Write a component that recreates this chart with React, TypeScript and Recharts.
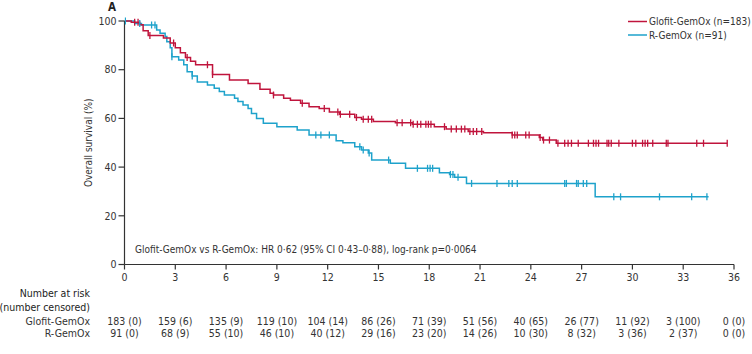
import React from "react";
import { ComposedChart, Line, Scatter, XAxis, YAxis } from "recharts";

const MONTH_TICKS = [0, 3, 6, 9, 12, 15, 18, 21, 24, 27, 30, 33, 36];
const SURV_TICKS = [0, 20, 40, 60, 80, 100];

// Glofit-GemOx Kaplan-Meier steps (month, % surviving)
const glofitT = [0, 0.4, 0.9, 1.1, 1.4, 2.3, 2.7, 3.0, 3.3, 3.6, 3.9, 4.2, 5.2, 6.2, 7.3, 8.0, 8.6, 8.8, 9.4, 9.8, 10.4, 10.9, 11.5, 12.1, 12.7, 13.6, 14.0, 14.7, 16.0, 17.0, 18.3, 19.0, 20.3, 21.2, 22.9, 24.5, 24.7, 25.5, 35.6];
const glofitS = [100, 99.5, 98.5, 96, 94, 93, 91, 89, 87, 85, 83.5, 82, 78, 75.8, 74.3, 72, 70.3, 69.6, 68.3, 67.5, 66.2, 64.8, 64.1, 62.6, 61.7, 60.4, 59.6, 58.7, 58.2, 57.6, 56.6, 55.6, 54.6, 54.1, 53.2, 52.2, 51.1, 49.8, 49.8];
const glofitCensor = [0.6, 0.8, 1.5, 2.9, 3.7, 4.9, 5.2, 8.8, 10.5, 11.8, 12.6, 12.75, 13.3, 13.7, 14.1, 14.4, 14.6, 16.1, 16.4, 16.9, 17.05, 17.3, 17.5, 17.8, 17.95, 18.1, 18.9, 19.3, 19.6, 19.9, 20.1, 20.4, 20.6, 20.8, 21.1, 22.9, 23.05, 23.2, 23.7, 23.9, 24.55, 24.75, 25.1, 25.6, 26.0, 26.2, 26.4, 26.8, 27.4, 27.7, 27.85, 28.0, 28.5, 28.6, 28.75, 29.2, 30.0, 30.2, 30.6, 30.75, 30.9, 31.2, 32.0, 32.1, 33.8, 34.2, 35.6];

// R-GemOx Kaplan-Meier steps
const rT = [0, 0.6, 1.0, 1.9, 2.1, 2.4, 2.5, 2.7, 2.8, 3.2, 3.5, 3.7, 4.0, 4.3, 4.9, 5.3, 5.6, 5.9, 6.5, 6.7, 7.0, 7.3, 7.5, 7.8, 8.2, 9.0, 10.2, 10.9, 12.5, 12.9, 13.6, 14.0, 14.4, 14.6, 15.7, 16.6, 18.6, 19.2, 19.5, 20.2, 27.8, 34.5];
const rS = [100, 99, 98.4, 96.3, 95, 93.6, 91.5, 89, 85.3, 84, 82, 79.2, 77.4, 75, 73.7, 72.4, 71, 69.6, 68.3, 66.9, 65.5, 64.1, 62, 60, 58, 56.6, 55.2, 53.2, 50.8, 50, 48.4, 47, 45.8, 42.9, 41.6, 39.5, 37.7, 37, 35.8, 33.3, 27.8, 27.8];
const rCensor = [0.05, 0.9, 1.6, 1.8, 2.8, 4.0, 11.3, 11.6, 12.1, 13.9, 14.1, 14.45, 15.6, 17.3, 17.9, 18.05, 18.2, 19.25, 19.4, 19.7, 20.5, 22.0, 22.7, 22.9, 23.2, 26.0, 26.1, 26.7, 26.8, 27.1, 27.3, 28.9, 29.3, 31.6, 33.5, 34.4];

// Number at risk (number censored)
const glofitAtRisk = [183, 159, 135, 119, 104, 86, 71, 51, 40, 26, 11, 3, 0];
const glofitCens = [0, 6, 9, 10, 14, 26, 39, 56, 65, 77, 92, 100, 0];
const rAtRisk = [91, 68, 55, 46, 40, 29, 23, 14, 10, 8, 3, 2, 0];
const rCens = [0, 9, 10, 10, 12, 16, 20, 26, 30, 32, 36, 37, 0];

const RED = "#c0143c";
const BLUE = "#1ea2cb";
const TEXT = "#333";
const FONT = "'Liberation Sans Narrow', 'DejaVu Sans Condensed', 'Roboto Condensed', Arial, sans-serif";

const toSteps = (ts: number[], ss: number[]) => ts.map((t, i) => ({ t, s: ss[i] }));
const survAt = (ts: number[], ss: number[], t: number) => {
  let v = ss[0];
  for (let i = 0; i < ts.length; i++) if (ts[i] <= t) v = ss[i];
  return v;
};
const toCensor = (cs: number[], ts: number[], ss: number[]) => cs.map((t) => ({ t, s: survAt(ts, ss, t) }));

const glofitData = toSteps(glofitT, glofitS);
const rData = toSteps(rT, rS);
const glofitCensorData = toCensor(glofitCensor, glofitT, glofitS);
const rCensorData = toCensor(rCensor, rT, rS);

const censorShape = (color: string) => (props: any) => {
  const { cx, cy } = props;
  return <line x1={cx} x2={cx} y1={cy - 3.5} y2={cy + 3.5} stroke={color} strokeWidth={1.3} />;
};

const XTick = (props: any) => {
  const { x, y, payload, index } = props;
  const i = MONTH_TICKS.indexOf(payload.value);
  return (
    <g fontFamily={FONT} fontSize={10.5} fill={TEXT}>
      <text x={x} y={y + 9.5} textAnchor="middle" fill={TEXT}>{payload.value}</text>
      <text x={x} y={y + 53.5} textAnchor="middle" fill={TEXT}>{`${glofitAtRisk[i]} (${glofitCens[i]})`}</text>
      <text x={x} y={y + 65.5} textAnchor="middle" fill={TEXT}>{`${rAtRisk[i]} (${rCens[i]})`}</text>
      {index === 0 && (
        <g textAnchor="end" fill={TEXT}>
          <text x={x - 34.5} y={y + 25.5} fill="#222">Number at risk</text>
          <text x={x - 34.5} y={y + 39.5} fill="#222">(number censored)</text>
          <text x={x - 34.5} y={y + 53.5} fill={TEXT}>Glofit-GemOx</text>
          <text x={x - 34.5} y={y + 65.5} fill={TEXT}>R-GemOx</text>
        </g>
      )}
    </g>
  );
};

export default function App() {
  return (
    <div style={{ position: "absolute", left: 0, top: 0, width: 752, height: 354, background: "#fff" }}>
      <ComposedChart width={752} height={354} margin={{ top: 21, right: 18, left: 64, bottom: 59.5 }}>
        <XAxis
          type="number"
          dataKey="t"
          domain={[0, 36]}
          ticks={MONTH_TICKS}
          interval={0}
          allowDataOverflow
          height={30}
          tickSize={5}
          tickMargin={2}
          axisLine={{ stroke: "#333", strokeWidth: 1.2 }}
          tickLine={{ stroke: "#333", strokeWidth: 1.2 }}
          tick={<XTick />}
        />
        <YAxis
          type="number"
          dataKey="s"
          domain={[0, 100]}
          ticks={SURV_TICKS}
          interval={0}
          width={60.5}
          tickSize={6}
          tickMargin={2}
          axisLine={{ stroke: "#333", strokeWidth: 1.2 }}
          tickLine={{ stroke: "#333", strokeWidth: 1.2 }}
          tick={{ fontFamily: FONT, fontSize: 10.5, fill: TEXT }}
          label={{ value: "Overall survival (%)", angle: -90, position: "insideLeft", offset: 24, style: { textAnchor: "middle", fontFamily: FONT, fontSize: 10, fill: TEXT } }}
        />
        <Line data={rData} dataKey="s" type="stepAfter" stroke={BLUE} strokeWidth={1.5} dot={false} isAnimationActive={false} />
        <Line data={glofitData} dataKey="s" type="stepAfter" stroke={RED} strokeWidth={1.5} dot={false} isAnimationActive={false} />
        <Scatter data={rCensorData} dataKey="s" shape={censorShape(BLUE)} isAnimationActive={false} />
        <Scatter data={glofitCensorData} dataKey="s" shape={censorShape(RED)} isAnimationActive={false} />
      </ComposedChart>
      <svg width={752} height={354} style={{ position: "absolute", left: 0, top: 0, pointerEvents: "none" }} fontFamily={FONT}>
        <text x={108} y={10.5} fontSize={11.5} fontWeight="bold" fill="#222">A</text>
        <line x1={628} x2={647} y1={21.5} y2={21.5} stroke={RED} strokeWidth={1.5} />
        <text x={649} y={25} fontSize={10} fill={TEXT}>Glofit-GemOx (n=183)</text>
        <line x1={628} x2={647} y1={35} y2={35} stroke={BLUE} strokeWidth={1.5} />
        <text x={649} y={38.5} fontSize={10} fill={TEXT}>R-GemOx (n=91)</text>
        <text x={135} y={253} fontSize={10} fill={TEXT}>Glofit-GemOx vs R-GemOx: HR 0·62 (95% CI 0·43–0·88), log-rank p=0·0064</text>
      </svg>
    </div>
  );
}
